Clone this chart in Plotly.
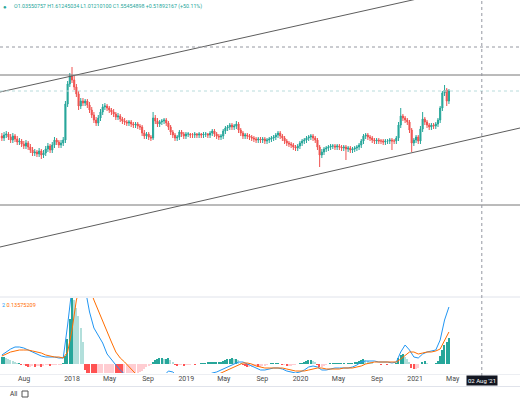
import pandas as pd
import plotly.graph_objects as go

# ---------------- data ----------------
start_week = "2017-05-22"

open_ = [1.10,1.08,1.11,1.12,1.09,1.06,1.10,1.07,1.04,1.05,
         1.02,1.00,1.03,0.99,0.96,0.93,0.94,0.92,0.95,0.91,
         0.93,0.97,1.00,0.96,1.01,1.06,1.04,1.01,1.03,1.06,
         1.42,1.62,1.70,1.66,1.59,1.52,1.40,1.45,1.43,1.45,
         1.41,1.36,1.31,1.26,1.23,1.28,1.34,1.39,1.40,1.38,
         1.36,1.34,1.32,1.29,1.30,1.27,1.25,1.24,1.23,1.24,
         1.22,1.21,1.22,1.20,1.19,1.13,1.10,1.12,1.09,1.08,
         1.28,1.25,1.22,1.24,1.25,1.26,1.23,1.19,1.14,1.11,
         1.08,1.09,1.14,1.12,1.10,1.12,1.12,1.11,1.11,1.12,
         1.11,1.12,1.11,1.12,1.12,1.11,1.13,1.15,1.12,1.10,
         1.09,1.10,1.15,1.18,1.19,1.21,1.19,1.20,1.22,1.16,
         1.13,1.10,1.11,1.10,1.09,1.08,1.07,1.06,1.07,1.06,
         1.07,1.05,1.06,1.07,1.08,1.09,1.11,1.13,1.10,1.08,
         1.05,1.03,1.02,1.01,0.99,0.98,1.00,1.03,1.05,1.06,
         1.08,1.09,1.10,1.08,1.06,0.99,0.91,0.94,0.97,0.98,
         0.99,1.00,1.00,0.99,1.00,0.99,0.98,0.99,0.97,0.98,
         0.96,0.97,0.98,0.99,1.01,1.05,1.10,1.11,1.09,1.08,
         1.06,1.05,1.06,1.05,1.05,1.04,1.05,1.05,1.06,1.05,
         1.05,1.08,1.21,1.30,1.28,1.26,1.24,1.16,1.03,1.06,
         1.09,1.05,1.17,1.27,1.24,1.21,1.19,1.21,1.20,1.22,
         1.26,1.38,1.53,1.56,1.45]

high = [1.13,1.14,1.15,1.14,1.12,1.13,1.12,1.10,1.08,1.07,
        1.05,1.06,1.05,1.02,0.99,0.97,0.96,0.98,0.97,0.96,
        1.00,1.03,1.02,1.04,1.09,1.08,1.06,1.06,1.09,1.45,
        1.65,1.73,1.79,1.70,1.62,1.55,1.48,1.48,1.47,1.47,
        1.44,1.39,1.34,1.29,1.31,1.37,1.42,1.43,1.42,1.40,
        1.38,1.37,1.34,1.33,1.32,1.29,1.28,1.26,1.26,1.26,
        1.24,1.24,1.24,1.22,1.21,1.16,1.14,1.14,1.11,1.34,
        1.31,1.28,1.26,1.27,1.28,1.28,1.25,1.21,1.16,1.13,
        1.11,1.16,1.16,1.14,1.14,1.14,1.13,1.13,1.14,1.13,
        1.14,1.13,1.14,1.14,1.13,1.15,1.17,1.17,1.14,1.12,
        1.12,1.17,1.20,1.21,1.23,1.23,1.22,1.25,1.24,1.18,
        1.15,1.13,1.13,1.12,1.11,1.10,1.09,1.09,1.09,1.09,
        1.09,1.08,1.09,1.10,1.11,1.13,1.15,1.15,1.12,1.10,
        1.07,1.05,1.04,1.03,1.01,1.02,1.05,1.07,1.08,1.10,
        1.11,1.12,1.12,1.10,1.08,1.01,0.97,0.99,1.00,1.01,
        1.02,1.02,1.02,1.02,1.02,1.01,1.01,1.01,1.00,1.00,
        0.99,1.00,1.01,1.03,1.07,1.12,1.13,1.13,1.11,1.10,
        1.08,1.08,1.08,1.07,1.07,1.07,1.07,1.08,1.08,1.07,
        1.10,1.24,1.38,1.32,1.30,1.28,1.26,1.18,1.08,1.11,
        1.11,1.20,1.34,1.29,1.26,1.23,1.23,1.23,1.24,1.28,
        1.40,1.55,1.61,1.58,1.57]

low = [1.05,1.05,1.08,1.06,1.03,1.03,1.04,1.01,1.01,0.99,
       0.97,0.97,0.96,0.93,0.90,0.90,0.89,0.89,0.87,0.88,
       0.90,0.94,0.93,0.93,0.98,1.01,0.98,0.98,1.00,1.03,
       1.39,1.59,1.63,1.56,1.49,1.36,1.37,1.40,1.40,1.38,
       1.33,1.28,1.23,1.20,1.20,1.25,1.31,1.36,1.35,1.33,
       1.31,1.29,1.26,1.26,1.24,1.22,1.21,1.20,1.20,1.19,
       1.18,1.18,1.17,1.16,1.10,1.07,1.07,1.06,1.05,1.06,
       1.22,1.19,1.19,1.21,1.22,1.20,1.16,1.11,1.08,1.05,
       1.05,1.06,1.09,1.07,1.07,1.09,1.08,1.08,1.08,1.08,
       1.08,1.08,1.08,1.09,1.08,1.08,1.10,1.09,1.07,1.06,
       1.06,1.07,1.12,1.15,1.16,1.16,1.16,1.17,1.13,1.10,
       1.07,1.07,1.07,1.06,1.05,1.04,1.03,1.03,1.03,1.03,
       1.02,1.02,1.03,1.04,1.05,1.06,1.08,1.07,1.05,1.02,
       1.00,0.99,0.98,0.96,0.95,0.95,0.97,1.00,1.02,1.03,
       1.05,1.06,1.05,1.03,0.96,0.79,0.88,0.91,0.94,0.95,
       0.96,0.97,0.96,0.96,0.96,0.95,0.95,0.86,0.94,0.93,
       0.93,0.94,0.95,0.96,0.98,1.02,1.07,1.06,1.05,1.03,
       1.02,1.02,1.02,1.02,1.01,1.01,1.02,1.02,0.96,1.02,
       1.02,1.05,1.18,1.25,1.23,1.21,1.13,0.94,1.00,1.03,
       1.02,1.02,1.14,1.21,1.18,1.16,1.16,1.17,1.17,1.19,
       1.23,1.35,1.50,1.40,1.42]

close = [1.08,1.11,1.12,1.09,1.06,1.10,1.07,1.04,1.05,1.02,
         1.00,1.03,0.99,0.96,0.93,0.94,0.92,0.95,0.91,0.93,
         0.97,1.00,0.96,1.01,1.06,1.04,1.01,1.03,1.06,1.42,
         1.62,1.70,1.66,1.59,1.52,1.40,1.45,1.43,1.45,1.41,
         1.36,1.31,1.26,1.23,1.28,1.34,1.39,1.40,1.38,1.36,
         1.34,1.32,1.29,1.30,1.27,1.25,1.24,1.23,1.24,1.22,
         1.21,1.22,1.20,1.19,1.13,1.10,1.12,1.09,1.08,1.28,
         1.25,1.22,1.24,1.25,1.26,1.23,1.19,1.14,1.11,1.08,
         1.09,1.14,1.12,1.10,1.12,1.12,1.11,1.11,1.12,1.11,
         1.12,1.11,1.12,1.12,1.11,1.13,1.15,1.12,1.10,1.09,
         1.10,1.15,1.18,1.19,1.21,1.19,1.20,1.22,1.16,1.13,
         1.10,1.11,1.10,1.09,1.08,1.07,1.06,1.07,1.06,1.07,
         1.05,1.06,1.07,1.08,1.09,1.11,1.13,1.10,1.08,1.05,
         1.03,1.02,1.01,0.99,0.98,1.00,1.03,1.05,1.06,1.08,
         1.09,1.10,1.08,1.06,0.99,0.91,0.94,0.97,0.98,0.99,
         1.00,1.00,0.99,1.00,0.99,0.98,0.99,0.97,0.98,0.96,
         0.97,0.98,0.99,1.01,1.05,1.10,1.11,1.09,1.08,1.06,
         1.05,1.06,1.05,1.05,1.04,1.05,1.05,1.06,1.05,1.05,
         1.08,1.21,1.30,1.28,1.26,1.24,1.16,1.03,1.06,1.09,
         1.05,1.17,1.27,1.24,1.21,1.19,1.21,1.20,1.22,1.26,
         1.38,1.53,1.56,1.45,1.55]

# MACD lines, sampled every second week
macd_line = [0.036,0.048,0.060,0.068,0.068,0.064,0.056,0.048,0.040,0.032,
             0.028,0.028,0.028,0.024,0.024,0.156,0.336,0.456,0.396,0.296,
             0.208,0.144,0.112,0.084,0.040,0.016,-0.004,-0.024,-0.044,-0.064,
             -0.080,-0.092,-0.100,-0.104,-0.100,-0.084,-0.064,-0.044,-0.028,-0.032,
             -0.048,-0.056,-0.060,-0.056,-0.052,-0.052,-0.048,-0.044,-0.036,-0.032,
             -0.024,-0.016,-0.008,0.000,0.008,0.008,0.000,-0.008,-0.016,-0.024,
             -0.024,-0.020,-0.016,-0.016,-0.020,-0.028,-0.032,-0.036,-0.032,-0.024,
             -0.012,-0.008,-0.012,-0.024,-0.024,-0.020,-0.016,-0.016,-0.016,-0.016,
             -0.012,-0.004,0.008,0.012,0.012,0.012,0.008,0.008,0.008,0.004,
             0.008,0.048,0.076,0.056,0.028,0.024,0.040,0.048,0.052,0.056,
             0.096,0.176,0.228]

signal_line = [0.032,0.040,0.048,0.052,0.056,0.056,0.056,0.052,0.048,0.044,
               0.036,0.032,0.028,0.028,0.024,0.048,0.136,0.256,0.316,0.336,
               0.304,0.256,0.212,0.176,0.124,0.088,0.048,0.024,0.008,-0.012,
               -0.032,-0.048,-0.060,-0.068,-0.076,-0.080,-0.076,-0.072,-0.064,-0.060,
               -0.056,-0.056,-0.056,-0.056,-0.056,-0.056,-0.052,-0.052,-0.048,-0.044,
               -0.036,-0.028,-0.020,-0.012,-0.004,0.004,0.004,0.000,-0.008,-0.012,
               -0.016,-0.016,-0.016,-0.016,-0.016,-0.020,-0.024,-0.028,-0.028,-0.028,
               -0.024,-0.020,-0.016,-0.016,-0.020,-0.020,-0.020,-0.020,-0.016,-0.016,
               -0.016,-0.012,-0.008,0.000,0.004,0.008,0.008,0.008,0.008,0.008,
               0.008,0.020,0.036,0.048,0.048,0.040,0.044,0.048,0.048,0.052,
               0.060,0.096,0.128]

hist = [0.028,0.028,0.024,0.020,0.016,0.012,0.008,0.004,0.004,-0.004,
        -0.004,-0.008,-0.012,-0.012,-0.008,-0.012,-0.008,-0.008,-0.012,-0.008,
        -0.004,-0.004,-0.008,-0.004,-0.004,-0.004,-0.004,-0.004,0.004,0.032,
        0.100,0.180,0.268,0.256,0.224,0.192,0.144,0.088,-0.024,-0.048,
        -0.072,-0.088,-0.100,-0.108,-0.104,-0.096,-0.084,-0.072,-0.064,-0.056,
        -0.052,-0.048,-0.052,-0.056,-0.060,-0.064,-0.060,-0.056,-0.052,-0.048,
        -0.044,-0.040,-0.036,-0.032,-0.028,-0.020,-0.012,-0.008,-0.004,0.008,
        0.016,0.020,0.024,0.024,0.020,0.020,0.024,0.016,0.008,-0.004,
        -0.008,-0.004,-0.004,-0.008,-0.004,-0.004,-0.004,0.000,-0.004,0.000,
        0.000,0.004,0.004,0.004,0.008,0.008,0.008,0.008,0.008,0.008,
        0.008,0.012,0.016,0.020,0.020,0.024,0.020,0.020,0.016,0.004,
        -0.004,-0.008,-0.012,-0.012,-0.012,-0.008,-0.008,-0.012,-0.012,-0.008,
        -0.008,-0.004,0.000,0.004,0.004,0.004,0.004,0.000,-0.004,-0.004,
        -0.008,-0.008,-0.008,-0.004,-0.004,0.000,0.004,0.004,0.008,0.012,
        0.016,0.016,0.012,0.008,-0.004,-0.012,-0.012,-0.008,-0.004,0.000,
        0.004,0.004,0.004,0.004,0.004,0.004,0.004,0.000,0.004,0.004,
        0.004,0.008,0.008,0.012,0.016,0.020,0.016,0.012,0.008,0.004,
        0.000,0.000,0.000,-0.004,0.000,0.000,-0.004,0.000,0.000,0.000,
        0.004,0.024,0.036,0.040,0.028,0.020,0.008,-0.016,-0.020,-0.020,
        -0.016,0.000,0.008,0.012,0.004,0.000,0.000,0.000,0.004,0.012,
        0.032,0.056,0.076,0.088,0.104]

tick_dates = ["2017-08-01", "2018-01-01", "2018-05-01", "2018-09-01",
              "2019-01-01", "2019-05-01", "2019-09-01", "2020-01-01",
              "2020-05-01", "2020-09-01", "2021-01-01", "2021-05-01"]
tick_text = ["Aug", "2018", "May", "Sep", "2019", "May", "Sep", "2020",
             "May", "Sep", "2021", "May"]

trend_dates = ["2017-05-16", "2021-12-02"]
upper_trend = [1.54, 2.70]
lower_trend = [-0.01, 1.18]
resistance_level = 1.71
support_level = 0.41
last_price = 1.55
cross_date = "2021-08-02"
cross_price = 1.99

header_text = "O1.03550757 H1.61245034 L1.01210100 C1.55454898 +0.51892167 (+50.11%)"
macd_label_a = "2"
macd_label_b = "0.13575209"
cross_label = "02 Aug '21"

# ---------------- figure ----------------
dates = pd.date_range(start_week, periods=len(close), freq="W-MON")
line_dates = dates[::2][:len(macd_line)]

UP, DOWN = "#26a69a", "#ef5350"
hist_colors = []
prev = 0.0
for h in hist:
    if h >= 0:
        hist_colors.append("#26a69a" if h >= prev else "#b2dfdb")
    else:
        hist_colors.append("#ff5252" if h < prev else "#ffcdd2")
    prev = h

fig = go.Figure()

def level(xs, ys, color, dash="solid"):
    fig.add_trace(go.Scatter(x=xs, y=ys, mode="lines",
                             line=dict(color=color, width=1, dash=dash),
                             xaxis="x", yaxis="y", hoverinfo="skip"))

level(trend_dates, upper_trend, "#5d5d5d")
level(trend_dates, lower_trend, "#5d5d5d")
level(trend_dates, [resistance_level] * 2, "#777777")
level(trend_dates, [support_level] * 2, "#777777")
level(trend_dates, [last_price] * 2, "#b9dcdc", "dot")
level(trend_dates, [cross_price] * 2, "#9598a1", "3px,3px")

fig.add_trace(go.Candlestick(
    x=dates, open=open_, high=high, low=low, close=close,
    increasing=dict(line=dict(color=UP, width=1), fillcolor=UP),
    decreasing=dict(line=dict(color=DOWN, width=1), fillcolor=DOWN),
    whiskerwidth=0, xaxis="x", yaxis="y", hoverinfo="skip"))

# MACD pane
fig.add_trace(go.Bar(x=dates, y=hist, marker=dict(color=hist_colors, line=dict(width=0)),
                     width=4.5 * 86400000, xaxis="x", yaxis="y2", hoverinfo="skip"))
fig.add_trace(go.Scatter(x=line_dates, y=macd_line, mode="lines",
                         line=dict(color="#2196f3", width=1), xaxis="x", yaxis="y2",
                         hoverinfo="skip"))
fig.add_trace(go.Scatter(x=line_dates, y=signal_line, mode="lines",
                         line=dict(color="#ff6d00", width=1), xaxis="x", yaxis="y2",
                         hoverinfo="skip"))

H = 400.0
fig.update_layout(
    width=520, height=400,
    margin=dict(l=0, r=0, t=0, b=0),
    paper_bgcolor="white", plot_bgcolor="white",
    showlegend=False,
    font=dict(family="Roboto, sans-serif", size=8, color="#4a4a4a"),
    xaxis=dict(type="date", range=["2017-05-16", "2021-12-02"],
               anchor="y2", rangeslider=dict(visible=False),
               showgrid=False, zeroline=False, showline=False, ticks="",
               tickmode="array", tickvals=tick_dates, ticktext=tick_text,
               tickfont=dict(size=7, color="#4a4a4a")),
    yaxis=dict(domain=[1 - 296 / H, 1], range=[-0.50, 2.46],
               showgrid=False, zeroline=False, showticklabels=False, ticks=""),
    yaxis2=dict(domain=[1 - 373 / H, 1 - 298 / H], range=[-0.036, 0.264],
                showgrid=False, zeroline=False, showticklabels=False, ticks=""),
    bargap=0,
)

shapes = [
    dict(type="line", xref="paper", yref="paper", x0=0, x1=1,
         y0=1 - 297 / H, y1=1 - 297 / H, line=dict(color="#e0e3eb", width=1)),
    dict(type="line", xref="paper", yref="paper", x0=0, x1=1,
         y0=1 - 374.5 / H, y1=1 - 374.5 / H, line=dict(color="#eceef2", width=1)),
    dict(type="line", xref="paper", yref="paper", x0=0, x1=1,
         y0=1 - 386.5 / H, y1=1 - 386.5 / H, line=dict(color="#e0e3eb", width=1)),
    dict(type="line", xref="x", yref="paper", x0=cross_date, x1=cross_date,
         y0=1 - 376 / H, y1=1, line=dict(color="#9598a1", width=1, dash="3px,3px")),
    dict(type="rect", xref="paper", yref="paper",
         x0=22 / 520, x1=28 / 520, y0=1 - 397 / H, y1=1 - 391 / H,
         line=dict(color="#555555", width=1)),
]
fig.update_layout(shapes=shapes)

annotations = [
    dict(xref="paper", yref="paper", x=1 / 520, y=1 - 6 / H, xanchor="left", yanchor="middle",
         text="●", showarrow=False, font=dict(size=6, color="#26a69a")),
    dict(xref="paper", yref="paper", x=12 / 520, y=1 - 6 / H, xanchor="left", yanchor="middle",
         text=header_text, showarrow=False, font=dict(size=5.3, color="#26a69a")),
    dict(xref="paper", yref="paper", x=0, y=1 - 305 / H, xanchor="left", yanchor="middle",
         text=f"<span style='color:#2196f3'>{macd_label_a}</span> "
              f"<span style='color:#ff6d00'>{macd_label_b}</span>",
         showarrow=False, font=dict(size=5.5)),
    dict(xref="paper", yref="paper", x=8 / 520, y=1 - 394 / H, xanchor="left", yanchor="middle",
         text="All", showarrow=False, font=dict(size=6.5, color="#333333")),
    dict(xref="x", yref="paper", x=cross_date, y=1 - 380.5 / H, xanchor="center", yanchor="middle",
         text=cross_label, showarrow=False, bgcolor="#131722", borderpad=1,
         font=dict(size=6, color="white")),
]
fig.update_layout(annotations=annotations)

fig.write_html("out.html", config={"displayModeBar": False},
               post_script="document.body.style.margin='0';")
